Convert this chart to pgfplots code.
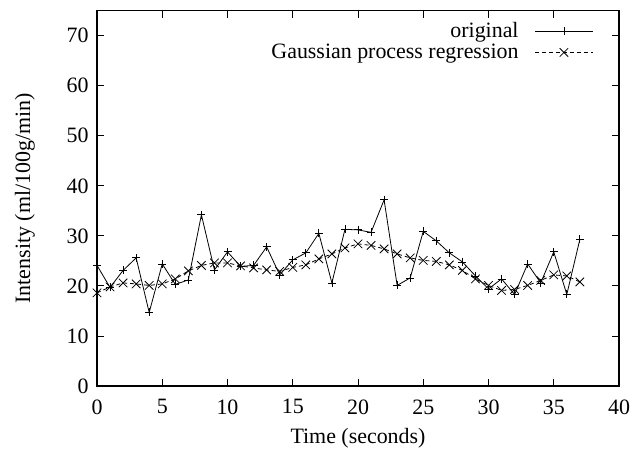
\documentclass[border=0pt]{standalone}
\usepackage{fontspec}
\setmainfont{Liberation Serif}
\usepackage{pgfplots}
\pgfplotsset{compat=1.18}
\begin{document}
\begin{tikzpicture}[font=\fontsize{22}{26}\selectfont]
\begin{axis}[
  scale only axis,
  width=522bp, height=375.3bp,
  xmin=0, xmax=40, ymin=0, ymax=75,
  xtick={0,5,...,40}, ytick={0,10,...,70},
  tick align=inside,
  major tick length=7bp,
  axis line style={line width=1.2bp},
  every tick/.style={line width=0.9bp, black},
  /pgf/number format/assume math mode=true,
  xticklabel style={yshift=-10bp},
  yticklabel style={xshift=-5bp},
  xlabel={Time (seconds)},
  ylabel={Intensity (ml/100g/min)},
  xlabel style={at={(axis description cs:0.5,-0.1386)}, anchor=center},
  ylabel style={at={(axis description cs:-0.138,0.5)}, anchor=center, rotate=0},
  legend plot pos=right,
  legend cell align=right,
  legend image code/.code={\path (0bp,0bp) (60bp,0bp);\draw[mark repeat=2,mark phase=2,#1] plot coordinates {(2bp,0bp) (31bp,0bp) (60bp,0bp)};},
  legend style={draw=none, fill=none, at={(0.957,0.979)}, anchor=north east, row sep=1bp, font=\fontsize{22}{26}\selectfont,
    /tikz/every odd column/.append style={column sep=12bp}},
]
\coordinate (SW) at (rel axis cs:0,0);
\addplot[black, line width=0.8bp, mark=+, mark size=4bp, mark options={solid}] coordinates {
(0,24.1) (1,19.7) (2,23.1) (3,25.6) (4,14.7) (5,24.4) (6,20.3) (7,21.2) (8,34.2) (9,23.2)
(10,26.8) (11,23.9) (12,24.1) (13,27.8) (14,22.2) (15,25.2) (16,26.6) (17,30.5) (18,20.6) (19,31.3)
(20,31.2) (21,30.7) (22,37.2) (23,20.1) (24,21.6) (25,30.9) (26,29.0) (27,26.6) (28,24.8) (29,22.0)
(30,19.4) (31,21.4) (32,18.3) (33,24.4) (34,20.6) (35,26.8) (36,18.3) (37,29.3)
};
\addlegendentry{original}
\addplot[black, line width=0.8bp, dash pattern=on 4bp off 3bp, mark=x, mark size=6bp, mark options={solid}] coordinates {
(0,18.6) (1,19.8) (2,20.6) (3,20.4) (4,20.1) (5,20.4) (6,21.4) (7,23.0) (8,24.1) (9,24.6)
(10,24.6) (11,24.0) (12,23.6) (13,23.2) (14,22.9) (15,23.7) (16,24.2) (17,25.4) (18,26.4) (19,27.6)
(20,28.4) (21,28.1) (22,27.4) (23,26.4) (24,25.6) (25,25.1) (26,24.9) (27,24.2) (28,23.1) (29,21.4)
(30,20.1) (31,19.1) (32,19.3) (33,20.1) (34,21.1) (35,22.2) (36,22.0) (37,20.8)
};
\addlegendentry{Gaussian process regression}
\end{axis}
\pgfresetboundingbox
\path (SW) ++(-97bp,-67bp) rectangle ++(636bp,453bp);
\end{tikzpicture}
\end{document}
